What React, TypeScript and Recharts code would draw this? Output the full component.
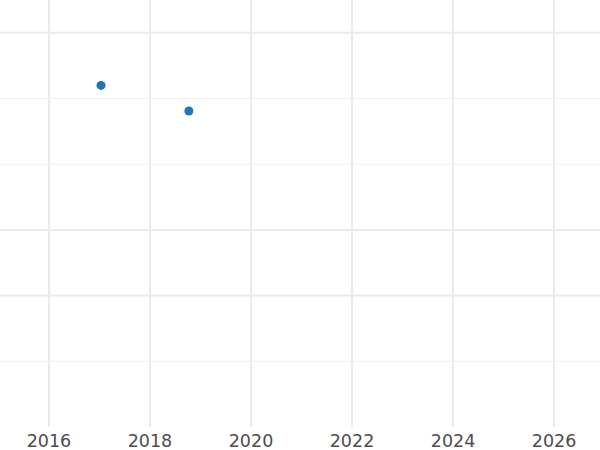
import { ScatterChart, Scatter, XAxis, YAxis, ReferenceLine } from "recharts";

// Two observations, year on x, unlabeled value on y.
const years = [2017.03, 2018.77];
const values = [5.2, 4.81];

const xTicks = [2016, 2018, 2020, 2022, 2024, 2026];
// y axis has no labels: heavier major lines and lighter minor lines
const yMajor = [6, 3, 2];
const yMinor = [5, 4, 1];

const POINT = "#1f77b4";
const GRID_MAJOR = "#ebebeb";
const GRID_MINOR = "#f0f0f0";
const INK = "#4d4d4d";

const data = years.map((x, i) => ({ x, y: values[i] }));

export default function App() {
  return (
    <div style={{ position: "absolute", left: 0, top: 0, width: 600, height: 450, background: "#fff" }}>
      <ScatterChart width={600} height={450} margin={{ top: 0, right: 0, bottom: 0, left: 0 }}>
        <XAxis
          dataKey="x"
          type="number"
          domain={[2015.03, 2026.91]}
          ticks={xTicks}
          allowDataOverflow
          axisLine={false}
          tickLine={false}
          height={23}
          tick={{ fill: INK, fontSize: 17.5, fontFamily: "DejaVu Sans" }}
          interval={0}
        />
        <YAxis dataKey="y" type="number" domain={[0, 6.5]} allowDataOverflow hide />

        {xTicks.map((t) => (
          <ReferenceLine key={`vx${t}`} x={t} stroke={GRID_MAJOR} strokeWidth={2} />
        ))}
        {yMinor.map((v) => (
          <ReferenceLine key={`mn${v}`} y={v} stroke={GRID_MINOR} strokeWidth={1} />
        ))}
        {yMajor.map((v) => (
          <ReferenceLine key={`mj${v}`} y={v} stroke={GRID_MAJOR} strokeWidth={2} />
        ))}

        <Scatter data={data} fill={POINT} isAnimationActive={false} />
      </ScatterChart>
    </div>
  );
}
